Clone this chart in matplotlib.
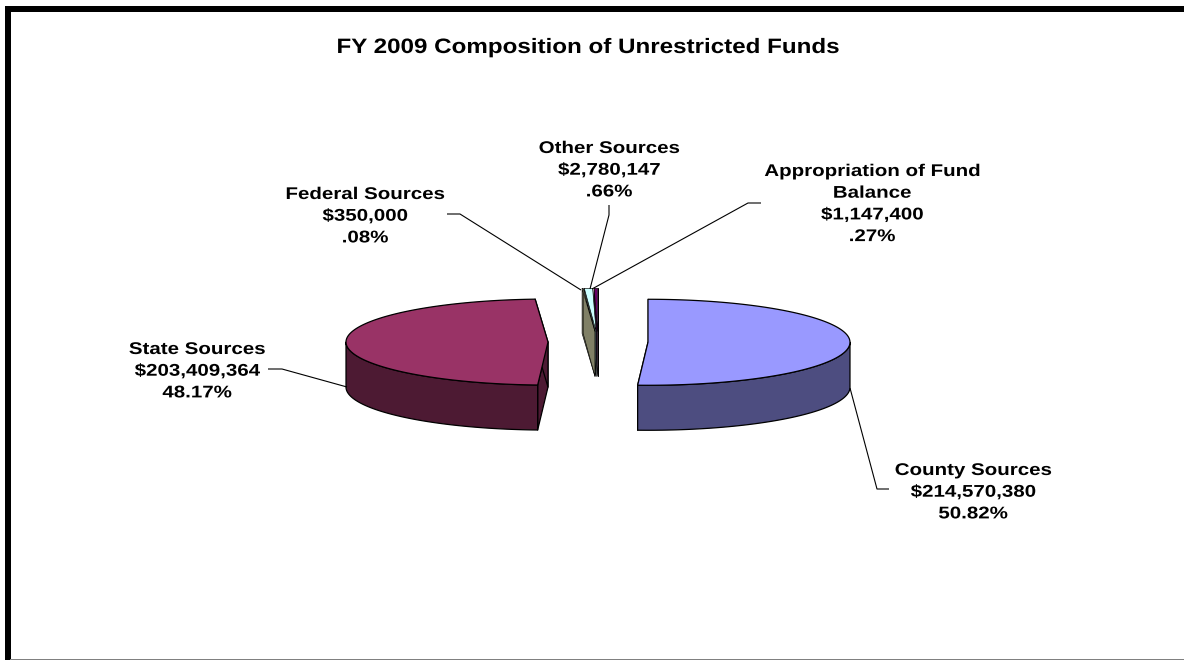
import numpy as np

import matplotlib
matplotlib.use('Agg')
import matplotlib.pyplot as plt

from matplotlib.patches import Polygon, Rectangle
from matplotlib.patheffects import AbstractPathEffect
from matplotlib.transforms import Affine2D

title = 'FY 2009 Composition of Unrestricted Funds'
sources = ['County Sources', 'State Sources', 'Federal Sources', 'Other Sources', 'Appropriation of Fund\nBalance']
amounts = [214570380, 203409364, 350000, 2780147, 1147400]
percent_labels = ['50.82%', '48.17%', '.08%', '.66%', '.27%']
top_colours = ['#9999FF', '#993366', '#FFFFCC', '#CCFFFF', '#660066']
side_colours = ['#4D4D80', '#4D1A33', '#808066', '#668080', '#330033']

# Pie geometry in image pixels.
cx, cy = 598.0, 342.0
rx, ry = 202.0, 43.0
depth = 45.0
explode = 50.0

# Centre x and baseline of the first line, per label.
label_pos = [(973, 475), (197, 354), (365, 199), (609, 153), (872, 176)]
line_step = 21.7

leaders = [
    [(850, 388), (877, 489), (889, 489)],
    [(347, 387), (282, 369), (268, 369)],
    [(581, 290), (460, 214), (447, 214)],
    [(590, 289), (609, 215), (609, 205)],
    [(592, 289), (748, 203), (761, 203)],
]


class StretchX(AbstractPathEffect):
    # The source chart was scaled up wider than tall, text included.
    def __init__(self, factor):
        super().__init__()
        self.factor = factor

    def draw_path(self, renderer, gc, tpath, affine, rgbFace=None):
        renderer.draw_path(gc, tpath, Affine2D().scale(self.factor, 1) + affine, rgbFace)


def wide_text(ax, x, y, s, size, factor):
    text = ax.text(x, y, s, ha='left', va='baseline', fontsize=size, fontweight='bold',
                   color='black', path_effects=[StretchX(factor)])
    width = text.get_window_extent(ax.figure.canvas.get_renderer()).width
    text.set_x(x - factor * width / 2)


def arc_points(centre, start, stop, n=120):
    t = np.radians(np.linspace(start, stop, n))
    return np.column_stack([centre[0] + rx * np.cos(t), centre[1] - ry * np.sin(t)])


def extruded(points):
    return np.vstack([points, (points + [0, depth])[::-1]])


def main():
    plt.rcParams['font.family'] = ['Liberation Sans', 'DejaVu Sans']

    fig = plt.figure(figsize=(11.84, 6.6), dpi=100)
    fig.patch.set_facecolor('white')
    ax = fig.add_axes([0, 0, 1, 1])
    ax.set_xlim(0, 1184)
    ax.set_ylim(660, 0)
    ax.axis('off')

    # Frame round the picture: heavy left and top, thin grey bottom.
    ax.add_patch(Rectangle((4.5, 5.5), 6, 655, fc='black', ec='none', zorder=1))
    ax.add_patch(Rectangle((4.5, 5.5), 1180, 6, fc='black', ec='none', zorder=1))
    ax.add_patch(Rectangle((10, 659), 1174, 1, fc='#808080', ec='none', zorder=1))

    shares = np.array(amounts) / sum(amounts)
    stops = 90 - 360 * np.cumsum(shares)
    starts = np.concatenate([[90], stops[:-1]])

    # The small slices sit behind one another, so the last one goes down first.
    z = 2
    for i in range(len(amounts) - 1, -1, -1):
        start, stop = starts[i], stops[i]
        mid = np.radians((start + stop) / 2)
        centre = np.array([cx + explode * np.cos(mid), cy - explode * ry / rx * np.sin(mid)])
        arc = arc_points(centre, start, stop)
        edge = dict(ec='black', lw=0.9 if shares[i] > 0.1 else 0.45, joinstyle='round')

        for rim in (arc[0], arc[-1]):
            cut = np.array([centre, rim])
            ax.add_patch(Polygon(extruded(cut), fc=side_colours[i], zorder=z, **edge))

        # Only the part of the rim facing the viewer shows.
        front_start = min(start, 0)
        front_stop = max(stop, -180)
        if front_start > front_stop:
            front = arc_points(centre, front_start, front_stop)
            ax.add_patch(Polygon(extruded(front), fc=side_colours[i], zorder=z + 1, **edge))

        ax.add_patch(Polygon(np.vstack([centre, arc]), fc=top_colours[i], zorder=z + 2, **edge))
        z += 3

    for line in leaders:
        xs, ys = zip(*line)
        ax.plot(xs, ys, color='black', lw=0.8, zorder=z, solid_capstyle='butt')

    wide_text(ax, 589, 53, title, 15, 1.16)

    for i, (x, y) in enumerate(label_pos):
        lines = sources[i].split('\n') + [f'${amounts[i]:,}', percent_labels[i]]
        for k, line in enumerate(lines):
            wide_text(ax, x, y + k * line_step, line, 12.2, 1.21)

    fig.savefig('out.png', dpi=100)


if __name__ == '__main__':
    main()
